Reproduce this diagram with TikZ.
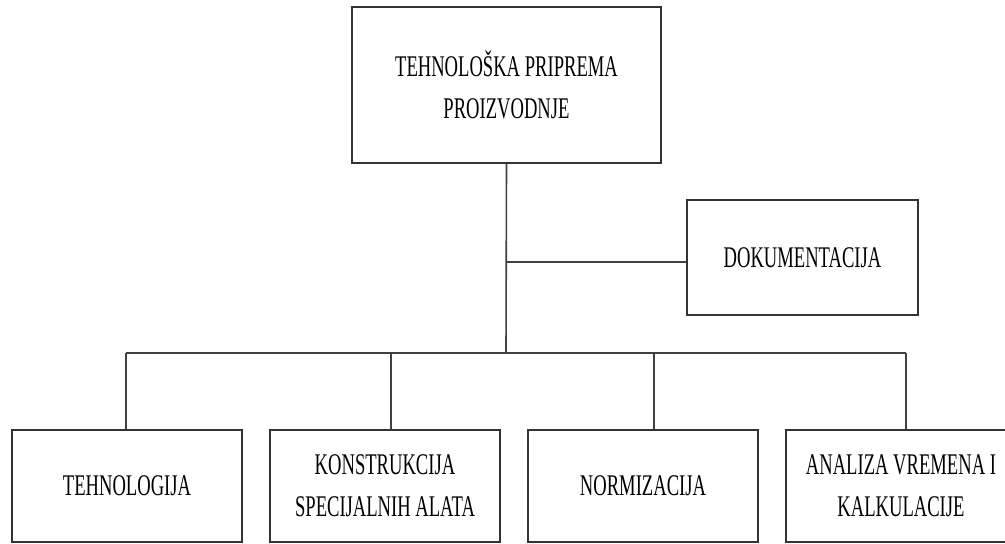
\documentclass[tikz,border=0pt]{standalone}
\usepackage{fontspec}
\newfontfamily\condserif[FakeStretch=0.62]{Liberation Serif}
\begin{document}
\begin{tikzpicture}[x=1pt,y=-1pt,
  box/.style={draw=black!80, line width=1.7pt, fill=white, inner sep=0pt, align=center,
    font=\condserif\fontsize{30}{42}\selectfont},
  conn/.style={draw=black!75, line width=1.6pt}]
\clip (0,0) rectangle (1005,544);
\fill[white] (0,0) rectangle (1005,544);
% junction points
\coordinate (jd) at (506,262);
\coordinate (bus) at (506,353);
\coordinate (j1) at (126,353);
\coordinate (j2) at (391,353);
\coordinate (j3) at (654,353);
\coordinate (j4) at (906,353);
% nodes
\node[box, minimum width=309pt, minimum height=156pt] (top) at (506.5,85) {TEHNOLOŠKA PRIPREMA\\PROIZVODNJE};
\node[box, minimum width=231pt, minimum height=115pt] (doc) at (802.5,257.5) {DOKUMENTACIJA};
\node[box, minimum width=230pt, minimum height=112pt] (b1) at (127,486) {TEHNOLOGIJA};
\node[box, minimum width=230pt, minimum height=112pt] (b2) at (385,486) {KONSTRUKCIJA\\SPECIJALNIH ALATA};
\node[box, minimum width=230pt, minimum height=112pt] (b3) at (643,486) {NORMIZACIJA};
\node[box, minimum width=230pt, minimum height=112pt] (b4) at (901,486) {ANALIZA VREMENA I\\KALKULACIJE};
% edges
\draw[conn] (top.south) -- (bus);
\draw[conn] (jd) -- (jd -| doc.west);
\draw[conn] (j1) -- (j4);
\draw[conn] (j1) -- (j1 |- b1.north);
\draw[conn] (j2) -- (j2 |- b2.north);
\draw[conn] (j3) -- (j3 |- b3.north);
\draw[conn] (j4) -- (j4 |- b4.north);
\end{tikzpicture}
\end{document}
